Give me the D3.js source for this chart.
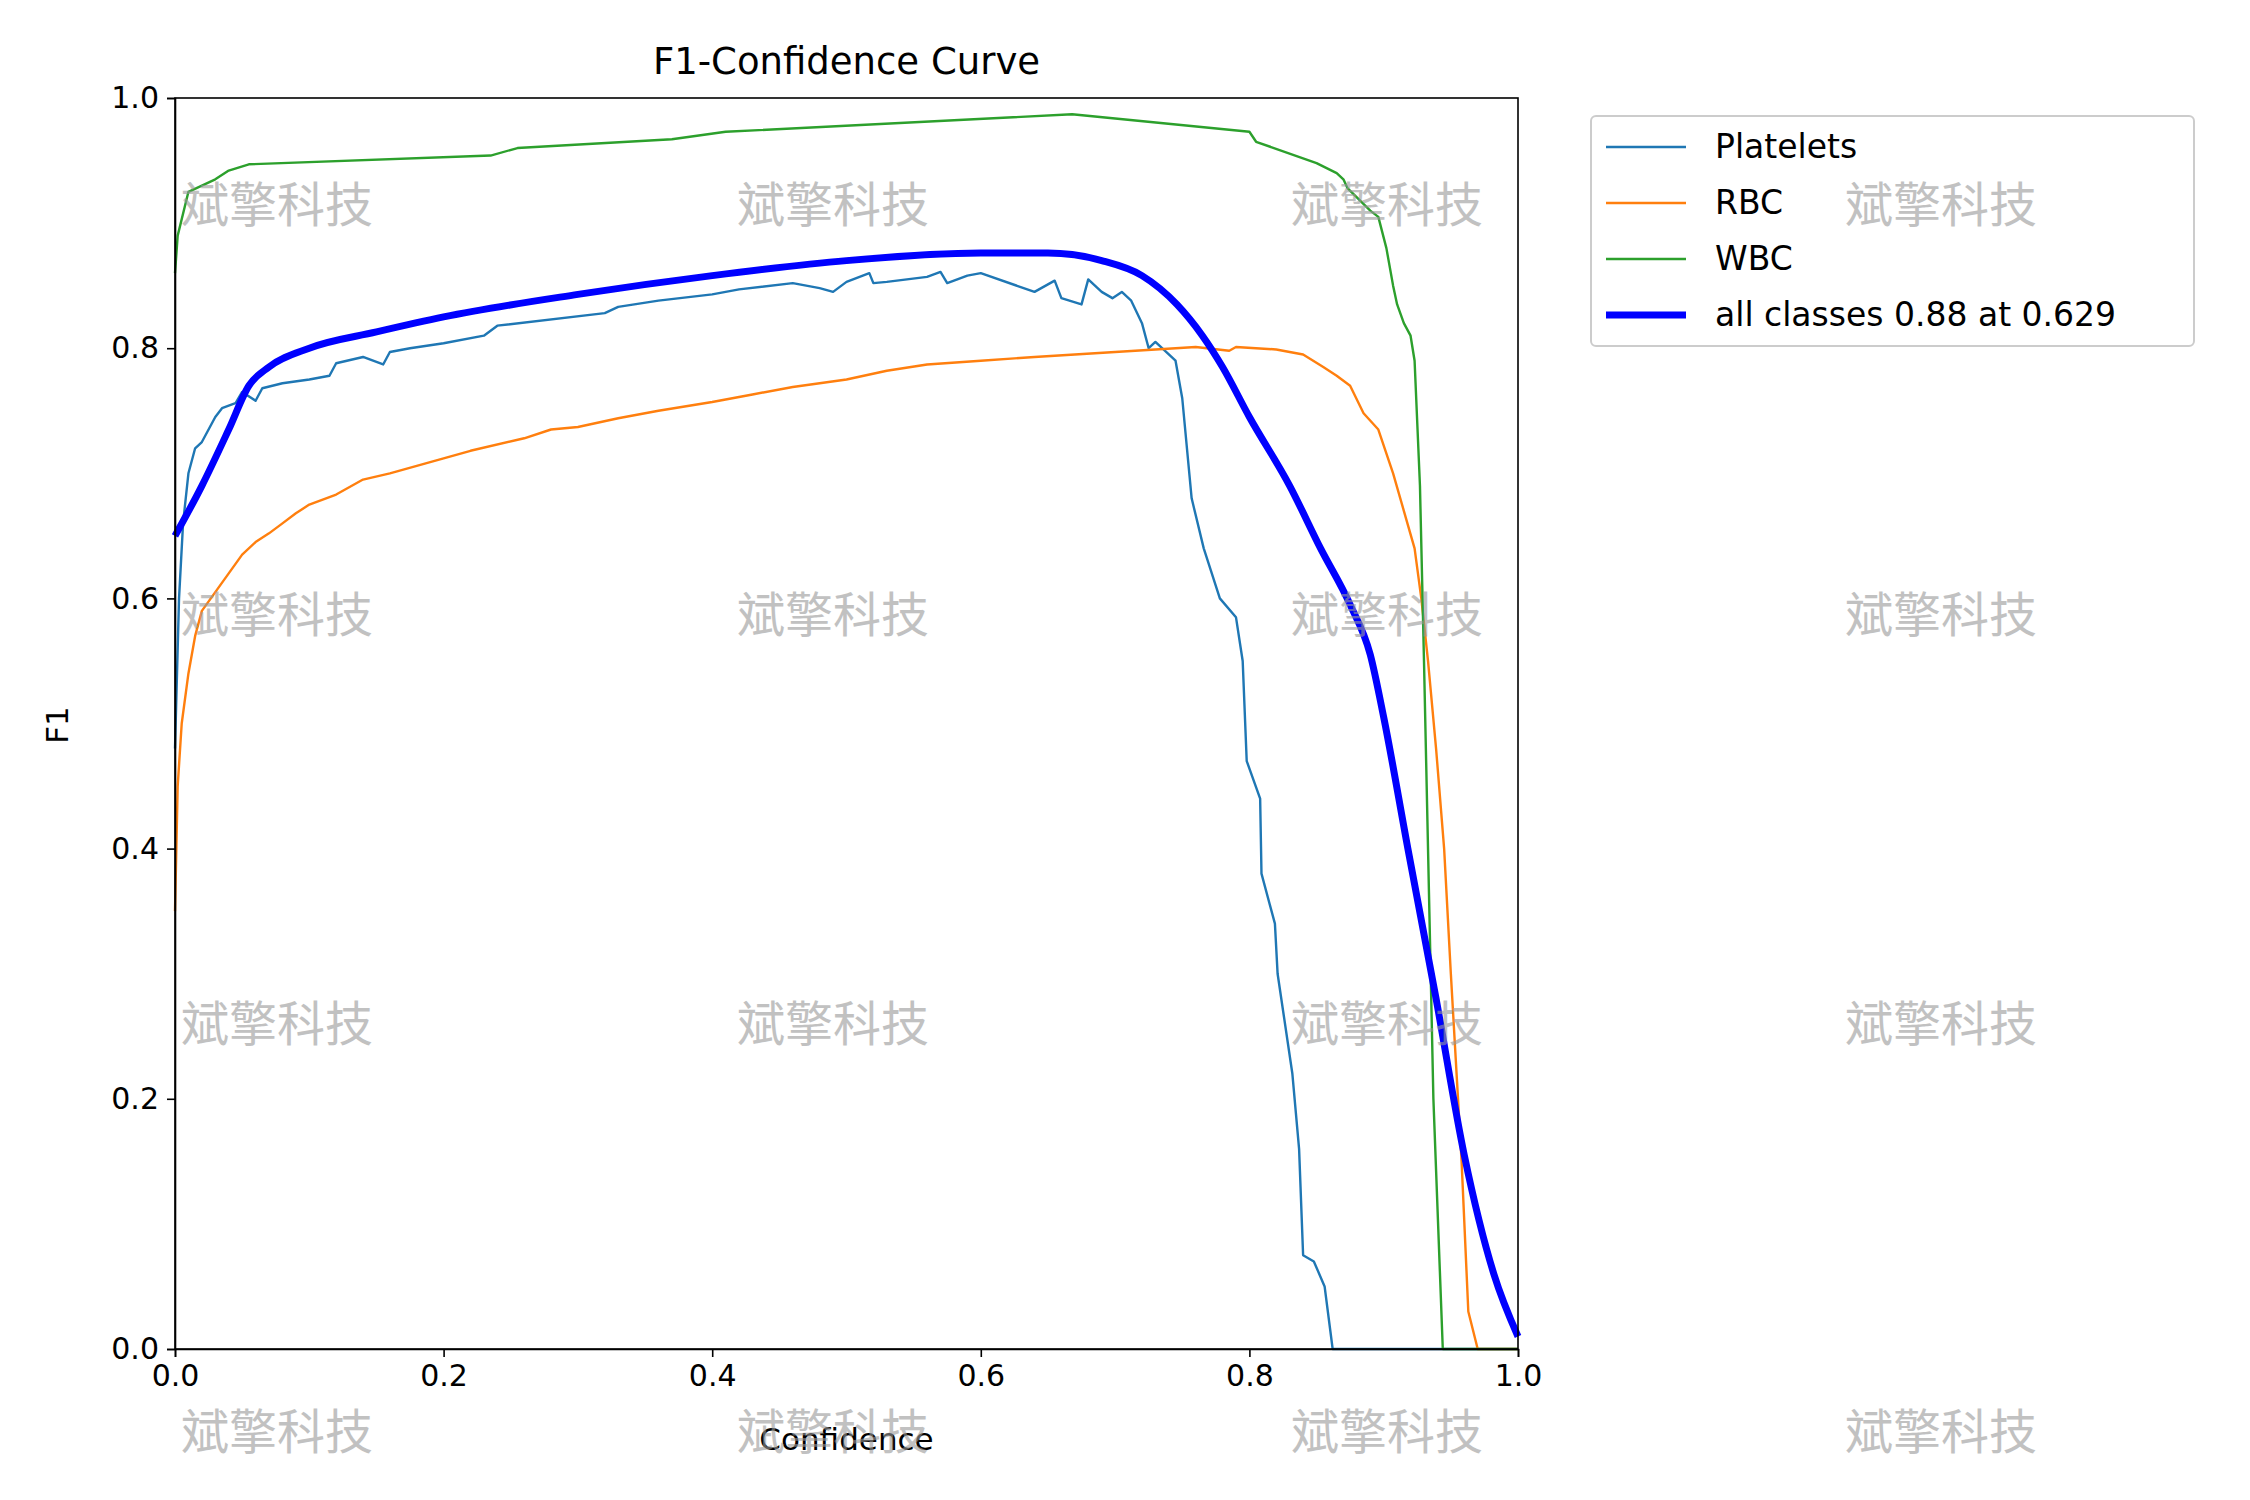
<!DOCTYPE html>
<html lang="en">
<head>
<meta charset="UTF-8">
<title>F1-Confidence Curve</title>
<style>
  body { margin: 0; background: #fff; font-family: "DejaVu Sans", sans-serif; }
  .axis text { font-size: 30px; font-family: "DejaVu Sans", sans-serif; }
  .axis path, .axis line { stroke: #000; stroke-width: 1.6px; }
  .curve { fill: none; stroke-linejoin: round; }
  .wm { font-family: "Noto Sans CJK SC", sans-serif; font-size: 48px; fill: #999; opacity: 0.6; }
</style>
</head>
<body>
<div id="chart"></div>
<script src="https://d3js.org/d3.v7.min.js"></script>
<script>
// Platelets
const plateletsX = [0, 0.003, 0.006, 0.01, 0.015, 0.02, 0.025, 0.03, 0.035, 0.045, 0.05, 0.06, 0.065, 0.08, 0.1, 0.115, 0.12, 0.14, 0.155, 0.16, 0.175, 0.2, 0.23, 0.24, 0.32, 0.33, 0.36, 0.4, 0.42, 0.46, 0.48, 0.49, 0.5, 0.517, 0.52, 0.53, 0.56, 0.57, 0.575, 0.59, 0.6, 0.64, 0.655, 0.66, 0.675, 0.68, 0.69, 0.698, 0.705, 0.712, 0.72, 0.725, 0.73, 0.745, 0.75, 0.757, 0.766, 0.778, 0.79, 0.795, 0.798, 0.808, 0.809, 0.819, 0.821, 0.832, 0.837, 0.84, 0.848, 0.856, 0.862, 1.0];
const plateletsY = [0.48, 0.6, 0.66, 0.7, 0.72, 0.725, 0.735, 0.745, 0.752, 0.756, 0.765, 0.758, 0.768, 0.772, 0.775, 0.778, 0.788, 0.793, 0.787, 0.797, 0.8, 0.804, 0.81, 0.818, 0.828, 0.833, 0.838, 0.843, 0.847, 0.852, 0.848, 0.845, 0.853, 0.86, 0.852, 0.853, 0.857, 0.861, 0.852, 0.858, 0.86, 0.845, 0.854, 0.84, 0.835, 0.855, 0.845, 0.84, 0.845, 0.838, 0.82, 0.8, 0.805, 0.79, 0.76, 0.68, 0.64, 0.6, 0.585, 0.55, 0.47, 0.44, 0.38, 0.34, 0.3, 0.22, 0.16, 0.075, 0.07, 0.05, 0, 0];
// RBC
const rbcX = [0, 0.002, 0.005, 0.01, 0.015, 0.02, 0.03, 0.04, 0.05, 0.06, 0.07, 0.08, 0.09, 0.1, 0.12, 0.14, 0.16, 0.18, 0.2, 0.22, 0.26, 0.28, 0.3, 0.33, 0.36, 0.4, 0.43, 0.46, 0.5, 0.53, 0.56, 0.6, 0.64, 0.67, 0.7, 0.73, 0.76, 0.785, 0.79, 0.82, 0.84, 0.855, 0.865, 0.875, 0.885, 0.896, 0.907, 0.915, 0.923, 0.928, 0.933, 0.939, 0.945, 0.95, 0.958, 0.963, 0.97, 1.0];
const rbcY = [0.35, 0.45, 0.5, 0.54, 0.57, 0.59, 0.605, 0.62, 0.635, 0.645, 0.652, 0.66, 0.668, 0.675, 0.683, 0.695, 0.7, 0.706, 0.712, 0.718, 0.728, 0.735, 0.737, 0.744, 0.75, 0.757, 0.763, 0.769, 0.775, 0.782, 0.787, 0.79, 0.793, 0.795, 0.797, 0.799, 0.801, 0.798, 0.801, 0.799, 0.795, 0.785, 0.778, 0.77, 0.748, 0.735, 0.7, 0.67, 0.64, 0.6, 0.55, 0.48, 0.4, 0.3, 0.15, 0.03, 0, 0];
// WBC
const wbcX = [0, 0.002, 0.01, 0.03, 0.04, 0.055, 0.235, 0.255, 0.37, 0.41, 0.668, 0.8, 0.805, 0.85, 0.865, 0.87, 0.873, 0.89, 0.896, 0.902, 0.907, 0.91, 0.915, 0.92, 0.923, 0.927, 0.93, 0.937, 0.944, 1.0];
const wbcY = [0.86, 0.89, 0.925, 0.935, 0.942, 0.947, 0.954, 0.96, 0.967, 0.973, 0.987, 0.973, 0.965, 0.948, 0.94, 0.935, 0.928, 0.91, 0.905, 0.88, 0.85, 0.835, 0.82, 0.81, 0.79, 0.69, 0.55, 0.2, 0, 0];
// all classes
const allX = [0, 0.02, 0.04, 0.055, 0.07, 0.1, 0.15, 0.2, 0.3, 0.4, 0.5, 0.6, 0.65, 0.69, 0.72, 0.746, 0.765, 0.78, 0.8, 0.83, 0.853, 0.875, 0.89, 0.9, 0.918, 0.939, 0.96, 0.982, 1.0];
const allY = [0.65, 0.69, 0.735, 0.77, 0.785, 0.8, 0.813, 0.825, 0.843, 0.858, 0.87, 0.876, 0.876, 0.87, 0.858, 0.835, 0.81, 0.785, 0.745, 0.69, 0.64, 0.595, 0.555, 0.505, 0.4, 0.28, 0.155, 0.06, 0.01];

const seriesNames = ["Platelets", "RBC", "WBC", "all classes 0.88 at 0.629"];
const seriesColors = ["#1f77b4", "#ff7f0e", "#2ca02c", "#0000ff"];
const ticks = [0, 0.2, 0.4, 0.6, 0.8, 1.0];
const watermark = "斌擎科技";

const W = 2250, H = 1500;
const margin = { left: 175, right: 732, top: 98, bottom: 151 };
const width = W - margin.left - margin.right;
const height = H - margin.top - margin.bottom;

const svg = d3.select("#chart").append("svg").attr("width", W).attr("height", H);
const g = svg.append("g").attr("transform", `translate(${margin.left},${margin.top})`);

const x = d3.scaleLinear().domain([0, 1]).range([0, width]);
const y = d3.scaleLinear().domain([0, 1]).range([height, 0]);

const toPts = (xs, ys) => xs.map((v, i) => [v, ys[i]]);
const series = [toPts(plateletsX, plateletsY), toPts(rbcX, rbcY), toPts(wbcX, wbcY), toPts(allX, allY)];

const line = d3.line().x(d => x(d[0])).y(d => y(d[1]));
const allLine = d3.line().x(d => x(d[0])).y(d => y(d[1])).curve(d3.curveMonotoneX);

g.append("defs").append("clipPath").attr("id", "clip")
  .append("rect").attr("x", -4).attr("y", -4).attr("width", width + 8).attr("height", height + 8);

series.forEach((s, i) => {
  g.append("path").datum(s).attr("class", "curve")
    .attr("clip-path", "url(#clip)")
    .attr("stroke", seriesColors[i])
    .attr("stroke-width", i === 3 ? 7 : 2.4)
    .attr("d", i === 3 ? allLine : line);
});

// frame
g.append("rect").attr("width", width).attr("height", height)
  .attr("fill", "none").attr("stroke", "#000").attr("stroke-width", 1.6);

g.append("g").attr("class", "axis").attr("transform", `translate(0,${height})`)
  .call(d3.axisBottom(x).tickValues(ticks).tickFormat(d3.format(".1f")).tickSizeOuter(0).tickSize(8).tickPadding(8));
g.append("g").attr("class", "axis")
  .call(d3.axisLeft(y).tickValues(ticks).tickFormat(d3.format(".1f")).tickSizeOuter(0).tickSize(8).tickPadding(8));

svg.append("text").attr("x", margin.left + width / 2).attr("y", 74)
  .attr("text-anchor", "middle").attr("font-size", 37).text("F1-Confidence Curve");
svg.append("text").attr("x", margin.left + width / 2).attr("y", 1450)
  .attr("text-anchor", "middle").attr("font-size", 31).text("Confidence");
svg.append("text").attr("transform", "translate(68,725) rotate(-90)")
  .attr("text-anchor", "middle").attr("font-size", 31).text("F1");

// legend
const lg = svg.append("g").attr("transform", "translate(1591,116)");
lg.append("rect").attr("width", 603).attr("height", 230).attr("rx", 5)
  .attr("fill", "#fff").attr("fill-opacity", 0.8).attr("stroke", "#ccc").attr("stroke-width", 2);
seriesNames.forEach((n, i) => {
  const yy = 31 + i * 56;
  lg.append("line").attr("x1", 15).attr("x2", 95).attr("y1", yy).attr("y2", yy)
    .attr("stroke", seriesColors[i]).attr("stroke-width", i === 3 ? 7 : 2.4);
  lg.append("text").attr("x", 124).attr("y", yy + 11).attr("font-size", 33).text(n);
});

// watermark grid
const wmX = [277, 833, 1387, 1941], wmY = [205, 615, 1024, 1432];
wmY.forEach(yy => wmX.forEach(xx => {
  svg.append("text").attr("class", "wm").attr("x", xx).attr("y", yy + 17)
    .attr("text-anchor", "middle").text(watermark);
}));
</script>
</body>
</html>
